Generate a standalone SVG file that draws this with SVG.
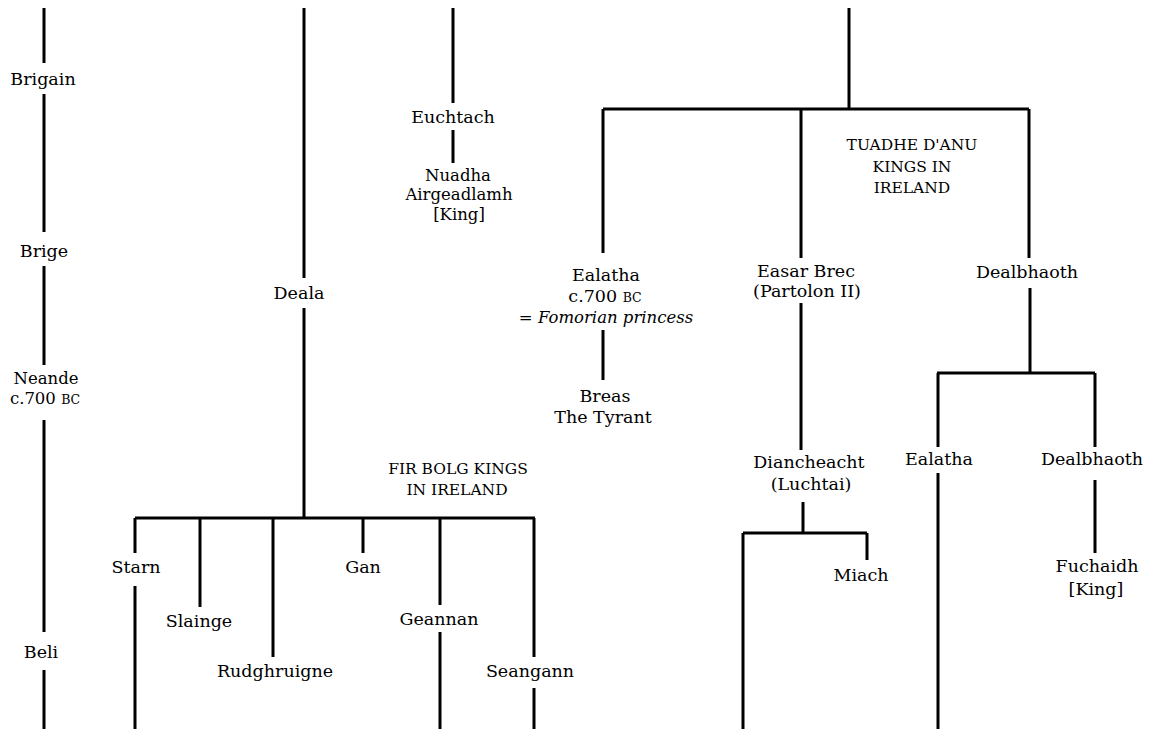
<svg xmlns="http://www.w3.org/2000/svg" width="1159" height="735" viewBox="0 0 1159 735">
  <style>
    .ln { stroke: #000; stroke-width: 3; fill: none; stroke-linecap: butt; }
    text { font-family: "DejaVu Serif", "Liberation Serif", serif; font-size: 17.5px; fill: #000; text-anchor: middle; }
    .hd { font-size: 15.5px; }
    .sc { font-size: 12.5px; }
    .it { font-style: italic; font-size: 16.5px; }
    .tight { font-size: 16.5px; }
  </style>
  <rect width="1159" height="735" fill="#fff"/>

  <!-- connectors -->
  <g id="connectors">
    <!-- left generation column -->
    <path class="ln" d="M44 8V63M44 94V232M44 266V365M44 420V632M44 670V729"/>
    <!-- Deala line and Fir Bolg kings -->
    <path class="ln" d="M304 8V278M304 308V518"/>
    <path class="ln" d="M135 518H535"/>
    <path class="ln" d="M135 518V553M135 586V729"/>
    <path class="ln" d="M200 518V607"/>
    <path class="ln" d="M273 518V657"/>
    <path class="ln" d="M363 518V553"/>
    <path class="ln" d="M440 518V605M440 632V729"/>
    <path class="ln" d="M534 518V657M534 688V729"/>
    <!-- Euchtach line -->
    <path class="ln" d="M453 8V103M453 130V163"/>
    <!-- Tuadhe D'Anu -->
    <path class="ln" d="M849 8V109"/>
    <path class="ln" d="M603 109H1029"/>
    <path class="ln" d="M603 109V253M603 330V380"/>
    <path class="ln" d="M801 109V258M801 303V450"/>
    <path class="ln" d="M1029 109V258M1030 288V373"/>
    <path class="ln" d="M803 502V533"/>
    <path class="ln" d="M743 533H867"/>
    <path class="ln" d="M743 533V729"/>
    <path class="ln" d="M867 533V560"/>
    <path class="ln" d="M937 373H1095"/>
    <path class="ln" d="M938 373V447M938 473V729"/>
    <path class="ln" d="M1095 373V447M1095 480V553"/>
  </g>

  <!-- generation labels -->
  <g id="brigain"><text x="43" y="85">Brigain</text></g>
  <g id="brige"><text x="44" y="257">Brige</text></g>
  <g id="neande"><text class="tight" x="46" y="384">Neande</text><text class="tight" x="45" y="404">c.700 <tspan class="sc">BC</tspan></text></g>
  <g id="beli"><text x="41" y="658">Beli</text></g>

  <!-- Fir Bolg branch -->
  <g id="deala"><text x="299" y="299">Deala</text></g>
  <g id="firbolg-title"><text class="hd" x="458" y="474">FIR BOLG KINGS</text><text class="hd" x="457" y="495">IN IRELAND</text></g>
  <g id="starn"><text x="136" y="573">Starn</text></g>
  <g id="slainge"><text x="199" y="627">Slainge</text></g>
  <g id="rudghruigne"><text x="275" y="677">Rudghruigne</text></g>
  <g id="gan"><text x="363" y="573">Gan</text></g>
  <g id="geannan"><text x="439" y="625">Geannan</text></g>
  <g id="seangann"><text x="530" y="677">Seangann</text></g>

  <!-- Euchtach branch -->
  <g id="euchtach"><text x="453" y="123">Euchtach</text></g>
  <g id="nuadha"><text class="tight" x="458" y="181">Nuadha</text><text class="tight" x="459" y="200">Airgeadlamh</text><text class="tight" x="459" y="220">[King]</text></g>

  <!-- Tuadhe D'Anu branch -->
  <g id="tuadhe-title"><text class="hd" x="912" y="150">TUADHE D'ANU</text><text class="hd" x="912" y="172">KINGS IN</text><text class="hd" x="912" y="193">IRELAND</text></g>
  <g id="ealatha"><text x="606" y="281">Ealatha</text><text x="605" y="302">c.700 <tspan class="sc">BC</tspan></text><text class="it" x="606" y="323">= Fomorian princess</text></g>
  <g id="breas"><text x="605" y="402">Breas</text><text x="603" y="423">The Tyrant</text></g>
  <g id="easar-brec"><text x="806" y="277">Easar Brec</text><text x="807" y="297">(Partolon II)</text></g>
  <g id="dianchecht"><text x="809" y="468">Diancheacht</text><text x="811" y="490">(Luchtai)</text></g>
  <g id="miach"><text x="861" y="581">Miach</text></g>
  <g id="dealbhaoth"><text x="1027" y="278">Dealbhaoth</text></g>
  <g id="ealatha-2"><text x="939" y="465">Ealatha</text></g>
  <g id="dealbhaoth-2"><text x="1092" y="465">Dealbhaoth</text></g>
  <g id="fuchaidh"><text x="1097" y="572">Fuchaidh</text><text x="1096" y="595">[King]</text></g>
</svg>
